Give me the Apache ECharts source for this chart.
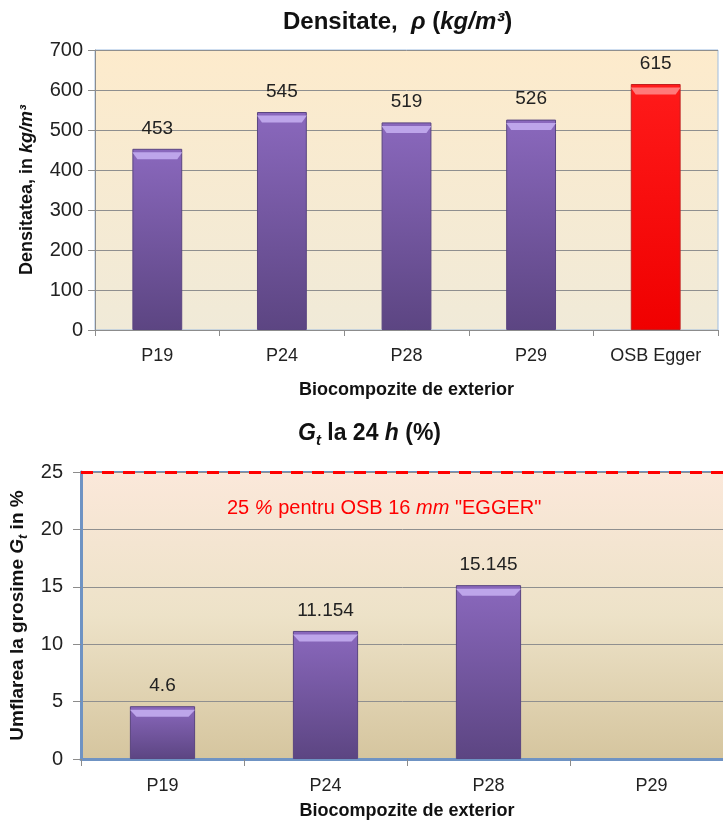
<!DOCTYPE html>
<html>
<head>
<meta charset="utf-8">
<script src="https://cdn.jsdelivr.net/npm/echarts@6/dist/echarts.min.js"></script>
<style>
  html, body { margin: 0; padding: 0; background: #ffffff; }
  #chart { width: 723px; height: 821px; }
</style>
</head>
<body>
<div id="chart"></div>
<script>
// Density of the exterior biocomposites (kg/m3)
const densCategories = ['P19', 'P24', 'P28', 'P29', 'OSB Egger'];
const densValues = [453, 545, 519, 526, 615];
const densMin = 0, densMax = 700, densStep = 100;

// Thickness swelling after 24 h (%)
const swellCategories = ['P19', 'P24', 'P28', 'P29'];
const swellValues = [4.6, 11.154, 15.145, null];
const swellLimit = 25;
const swellMin = 0, swellMax = 25, swellStep = 5;

const FONT = '"Liberation Sans", Arial, sans-serif';
const G = echarts.graphic;

const purpleFill = new G.LinearGradient(0, 0, 0, 1, [
  { offset: 0, color: '#8a68bd' },
  { offset: 1, color: '#5c4582' }
]);
const redFill = new G.LinearGradient(0, 0, 0, 1, [
  { offset: 0, color: '#ff1a1a' },
  { offset: 1, color: '#f00000' }
]);
const bevel = 'path://M0,0 L20,0 L18,2 L2,2 Z';

function barItems(values, redIndex) {
  return values.map((v, i) => ({
    value: v,
    itemStyle: i === redIndex
      ? { color: redFill, borderColor: '#c02020', borderWidth: 1 }
      : { color: purpleFill, borderColor: '#5a4580', borderWidth: 1 }
  }));
}
function bevelItems(values, redIndex) {
  return values.map((v, i) => ({
    value: v,
    itemStyle: { color: i === redIndex ? '#ff7a7a' : '#bda5ea' }
  }));
}

const labelStyle = { show: true, position: 'top', distance: 11, color: '#222', fontSize: 19, fontFamily: FONT };

const boldRich = (size, lh) => ({
  b: { fontSize: size, fontWeight: 'bold', color: '#111', fontFamily: FONT, lineHeight: lh },
  i: { fontSize: size, fontWeight: 'bold', fontStyle: 'italic', color: '#111', fontFamily: FONT, lineHeight: lh }
});

const option = {
  animation: false,
  textStyle: { fontFamily: FONT },
  grid: [
    {
      left: 95, top: 50, width: 623, height: 280,
      outerBoundsMode: 'none',
      show: true, borderColor: '#9fbde0', borderWidth: 1,
      backgroundColor: new G.LinearGradient(0, 0, 0, 1, [
        { offset: 0, color: '#fdebcc' },
        { offset: 1, color: '#f0ead8' }
      ])
    },
    {
      // plot area runs past the right edge of the canvas
      left: 81, top: 472, width: 652, height: 287,
      outerBoundsMode: 'none',
      show: true, borderColor: '#6f93c3', borderWidth: 2,
      backgroundColor: new G.LinearGradient(0, 0, 0, 1, [
        { offset: 0, color: '#fbe8da' },
        { offset: 0.5, color: '#ede2c8' },
        { offset: 1, color: '#d5c59e' }
      ])
    }
  ],
  xAxis: [
    {
      gridIndex: 0, type: 'category', data: densCategories,
      axisLine: { lineStyle: { color: '#8c8c8c', width: 1 } },
      axisTick: { show: true, length: 6, lineStyle: { color: '#8c8c8c' } },
      axisLabel: { color: '#222', fontSize: 18, margin: 17 },
      name: 'Biocompozite de exterior', nameLocation: 'middle', nameGap: 51,
      nameTextStyle: { color: '#111', fontSize: 18, fontWeight: 'bold' }
    },
    {
      gridIndex: 1, type: 'category', data: swellCategories,
      axisLine: { lineStyle: { color: '#6f93c3', width: 3 } },
      axisTick: { show: true, length: 7, lineStyle: { color: '#8c8c8c' } },
      axisLabel: { color: '#222', fontSize: 18, margin: 18 },
      name: 'Biocompozite de exterior', nameLocation: 'middle', nameGap: 43,
      nameTextStyle: { color: '#111', fontSize: 18, fontWeight: 'bold' }
    }
  ],
  yAxis: [
    {
      gridIndex: 0, type: 'value', min: densMin, max: densMax, interval: densStep,
      axisLine: { show: true, lineStyle: { color: '#8c8c8c' } },
      axisTick: { show: true, length: 7, lineStyle: { color: '#8c8c8c' } },
      axisLabel: { color: '#222', fontSize: 20, margin: 12 },
      splitLine: { lineStyle: { color: '#8f8f8f', width: 1 } },
      name: '{b|Densitatea, in }{i|kg/m³}', nameLocation: 'middle', nameRotate: 90, nameGap: 57,
      nameTextStyle: { rich: boldRich(18, 22) }
    },
    {
      gridIndex: 1, type: 'value', min: swellMin, max: swellMax, interval: swellStep,
      axisLine: { show: true, lineStyle: { color: '#6f93c3', width: 3 } },
      axisTick: { show: true, length: 8, lineStyle: { color: '#8c8c8c' } },
      axisLabel: { color: '#222', fontSize: 20, margin: 18 },
      splitLine: { lineStyle: { color: '#8f8f8f', width: 1 } },
      name: '{b|Umflarea la grosime }{i|G}{s|t}{b| in %}', nameLocation: 'middle', nameRotate: 90, nameGap: 50,
      nameTextStyle: {
        rich: Object.assign(boldRich(19, 24), {
          s: { fontSize: 13, fontWeight: 'bold', fontStyle: 'italic', color: '#111', fontFamily: FONT, verticalAlign: 'bottom', lineHeight: 16 }
        })
      }
    }
  ],
  series: [
    {
      type: 'bar', xAxisIndex: 0, yAxisIndex: 0, barWidth: '40%',
      data: barItems(densValues, 4),
      label: labelStyle,
      z: 2
    },
    {
      type: 'pictorialBar', xAxisIndex: 0, yAxisIndex: 0, barWidth: '40%',
      symbol: bevel, symbolSize: ['100%', 7], symbolPosition: 'end', symbolOffset: [0, '50%'],
      data: bevelItems(densValues, 4), z: 3, silent: true
    },
    {
      type: 'bar', xAxisIndex: 1, yAxisIndex: 1, barWidth: '40%',
      data: barItems(swellValues, -1),
      label: labelStyle,
      z: 2,
      markLine: {
        silent: true, symbol: ['none', 'none'],
        lineStyle: { color: '#ff0000', type: [12, 9], width: 3 },
        label: { show: false },
        data: [{ yAxis: swellLimit }]
      }
    },
    {
      type: 'pictorialBar', xAxisIndex: 1, yAxisIndex: 1, barWidth: '40%',
      symbol: bevel, symbolSize: ['100%', 7], symbolPosition: 'end', symbolOffset: [0, '50%'],
      data: bevelItems(swellValues, -1), z: 3, silent: true
    }
  ],
  graphic: [
    {
      type: 'text', left: 283, top: 10,
      style: {
        text: '{b|Densitate,  }{i|ρ}{b| (}{i|kg/m³}{b|)}',
        rich: {
          b: { fontSize: 24, fontWeight: 'bold', fill: '#111', fontFamily: FONT },
          i: { fontSize: 24, fontWeight: 'bold', fontStyle: 'italic', fill: '#111', fontFamily: FONT }
        }
      }
    },
    {
      type: 'text', left: 298, top: 422,
      style: {
        text: '{i|G}{s|t}{b| la 24 }{i|h}{b| (%)}',
        rich: {
          b: { fontSize: 23, fontWeight: 'bold', fill: '#111', fontFamily: FONT, lineHeight: 30 },
          i: { fontSize: 23, fontWeight: 'bold', fontStyle: 'italic', fill: '#111', fontFamily: FONT, lineHeight: 30 },
          s: { fontSize: 15, fontWeight: 'bold', fontStyle: 'italic', fill: '#111', fontFamily: FONT, verticalAlign: 'bottom', lineHeight: 17 }
        }
      }
    },
    {
      type: 'text', left: 227, top: 498,
      style: {
        text: '{n|25 }{i|%}{n| pentru OSB 16 }{i|mm}{n| "EGGER"}',
        rich: {
          n: { fontSize: 20, fill: '#ff0000', fontFamily: FONT },
          i: { fontSize: 20, fontStyle: 'italic', fill: '#ff0000', fontFamily: FONT }
        }
      }
    }
  ]
};

const chart = echarts.init(document.getElementById('chart'), null, { renderer: 'canvas' });
chart.setOption(option);
</script>
</body>
</html>
